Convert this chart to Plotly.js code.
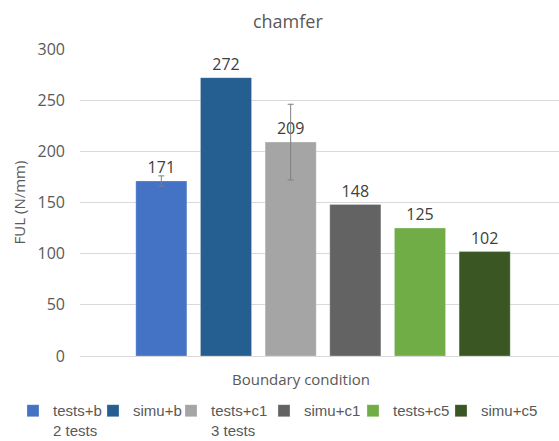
<!DOCTYPE html>
<html>
<head>
<meta charset="utf-8">
<script src="https://cdn.plot.ly/plotly-3.0.1.min.js"></script>
<style>html,body{margin:0;padding:0;background:#fff}#chart{width:559px;height:441px}</style>
</head>
<body>
<div id="chart"></div>
<script>
const seriesNames = ["tests+b<br>2 tests", "simu+b", "tests+c1<br>3 tests", "simu+c1", "tests+c5", "simu+c5"];
const seriesValues = [171, 272, 209, 148, 125, 102];
const seriesErrors = [5, null, 37, null, null, null];
const seriesColors = ["#4472C4", "#255E91", "#A5A5A5", "#636363", "#70AD47", "#3A5723"];
const legendWidths = [35, 33, 48, 44, 43, 60];
const category = ["chamfer"];
const yTicks = [0, 50, 100, 150, 200, 250, 300];

const traces = seriesNames.map((name, i) => {
  const t = {
    type: "bar",
    name: name,
    x: category,
    y: [seriesValues[i]],
    text: [String(seriesValues[i])],
    textposition: "outside",
    cliponaxis: false,
    textfont: {family: "Open Sans", size: 16, color: "#404040"},
    marker: {color: seriesColors[i], line: {color: "rgba(255,255,255,0.5)", width: 0.5}},
    legendwidth: legendWidths[i],
    hoverinfo: "none"
  };
  if (seriesErrors[i] !== null) {
    t.error_y = {type: "data", array: [seriesErrors[i]], visible: true, color: "#7F7F7F", thickness: 1, width: 3};
  }
  return t;
});

const layout = {
  width: 559, height: 441,
  margin: {l: 80, r: 0, t: 49, b: 85, autoexpand: false},
  paper_bgcolor: "#fff", plot_bgcolor: "#fff",
  font: {family: "Open Sans", color: "#595959", size: 15},
  title: {text: "chamfer", x: 0.515, xanchor: "center", y: 0.950, yanchor: "middle", font: {family: "Open Sans", size: 18, color: "#595959"}},
  barmode: "group",
  bargap: 0.19,
  bargroupgap: 0.21,
  showlegend: true,
  legend: {orientation: "h", xref: "paper", yref: "paper", x: -0.1399, xanchor: "left", y: -0.125, yanchor: "top", valign: "top",
           font: {family: "Liberation Sans", size: 15, color: "#595959"}, traceorder: "normal",
           itemclick: false, tracegroupgap: 0, bgcolor: "rgba(0,0,0,0)"},
  xaxis: {range: [-0.5073, 0.4927], showticklabels: false, showgrid: false, zeroline: false, showline: true, linecolor: "#D9D9D9", linewidth: 1, fixedrange: true},
  yaxis: {range: [0, 300], tickvals: yTicks, ticktext: yTicks.map(String), showgrid: true, gridcolor: "#D9D9D9", gridwidth: 1,
          zeroline: false, showline: false, ticks: "", ticklabelstandoff: 14,
          tickfont: {family: "Open Sans", size: 16, color: "#595959"},
          title: {text: "FUL (N/mm)", standoff: 8, font: {family: "Open Sans", size: 15, color: "#595959"}}},
  annotations: [{text: "Boundary condition", xref: "paper", yref: "paper", x: 0.461, y: -0.075, xanchor: "center", yanchor: "middle",
                 showarrow: false, font: {family: "Open Sans", size: 15, color: "#595959"}}]
};

Plotly.newPlot("chart", traces, layout, {displayModeBar: false, staticPlot: true});
</script>
</body>
</html>
